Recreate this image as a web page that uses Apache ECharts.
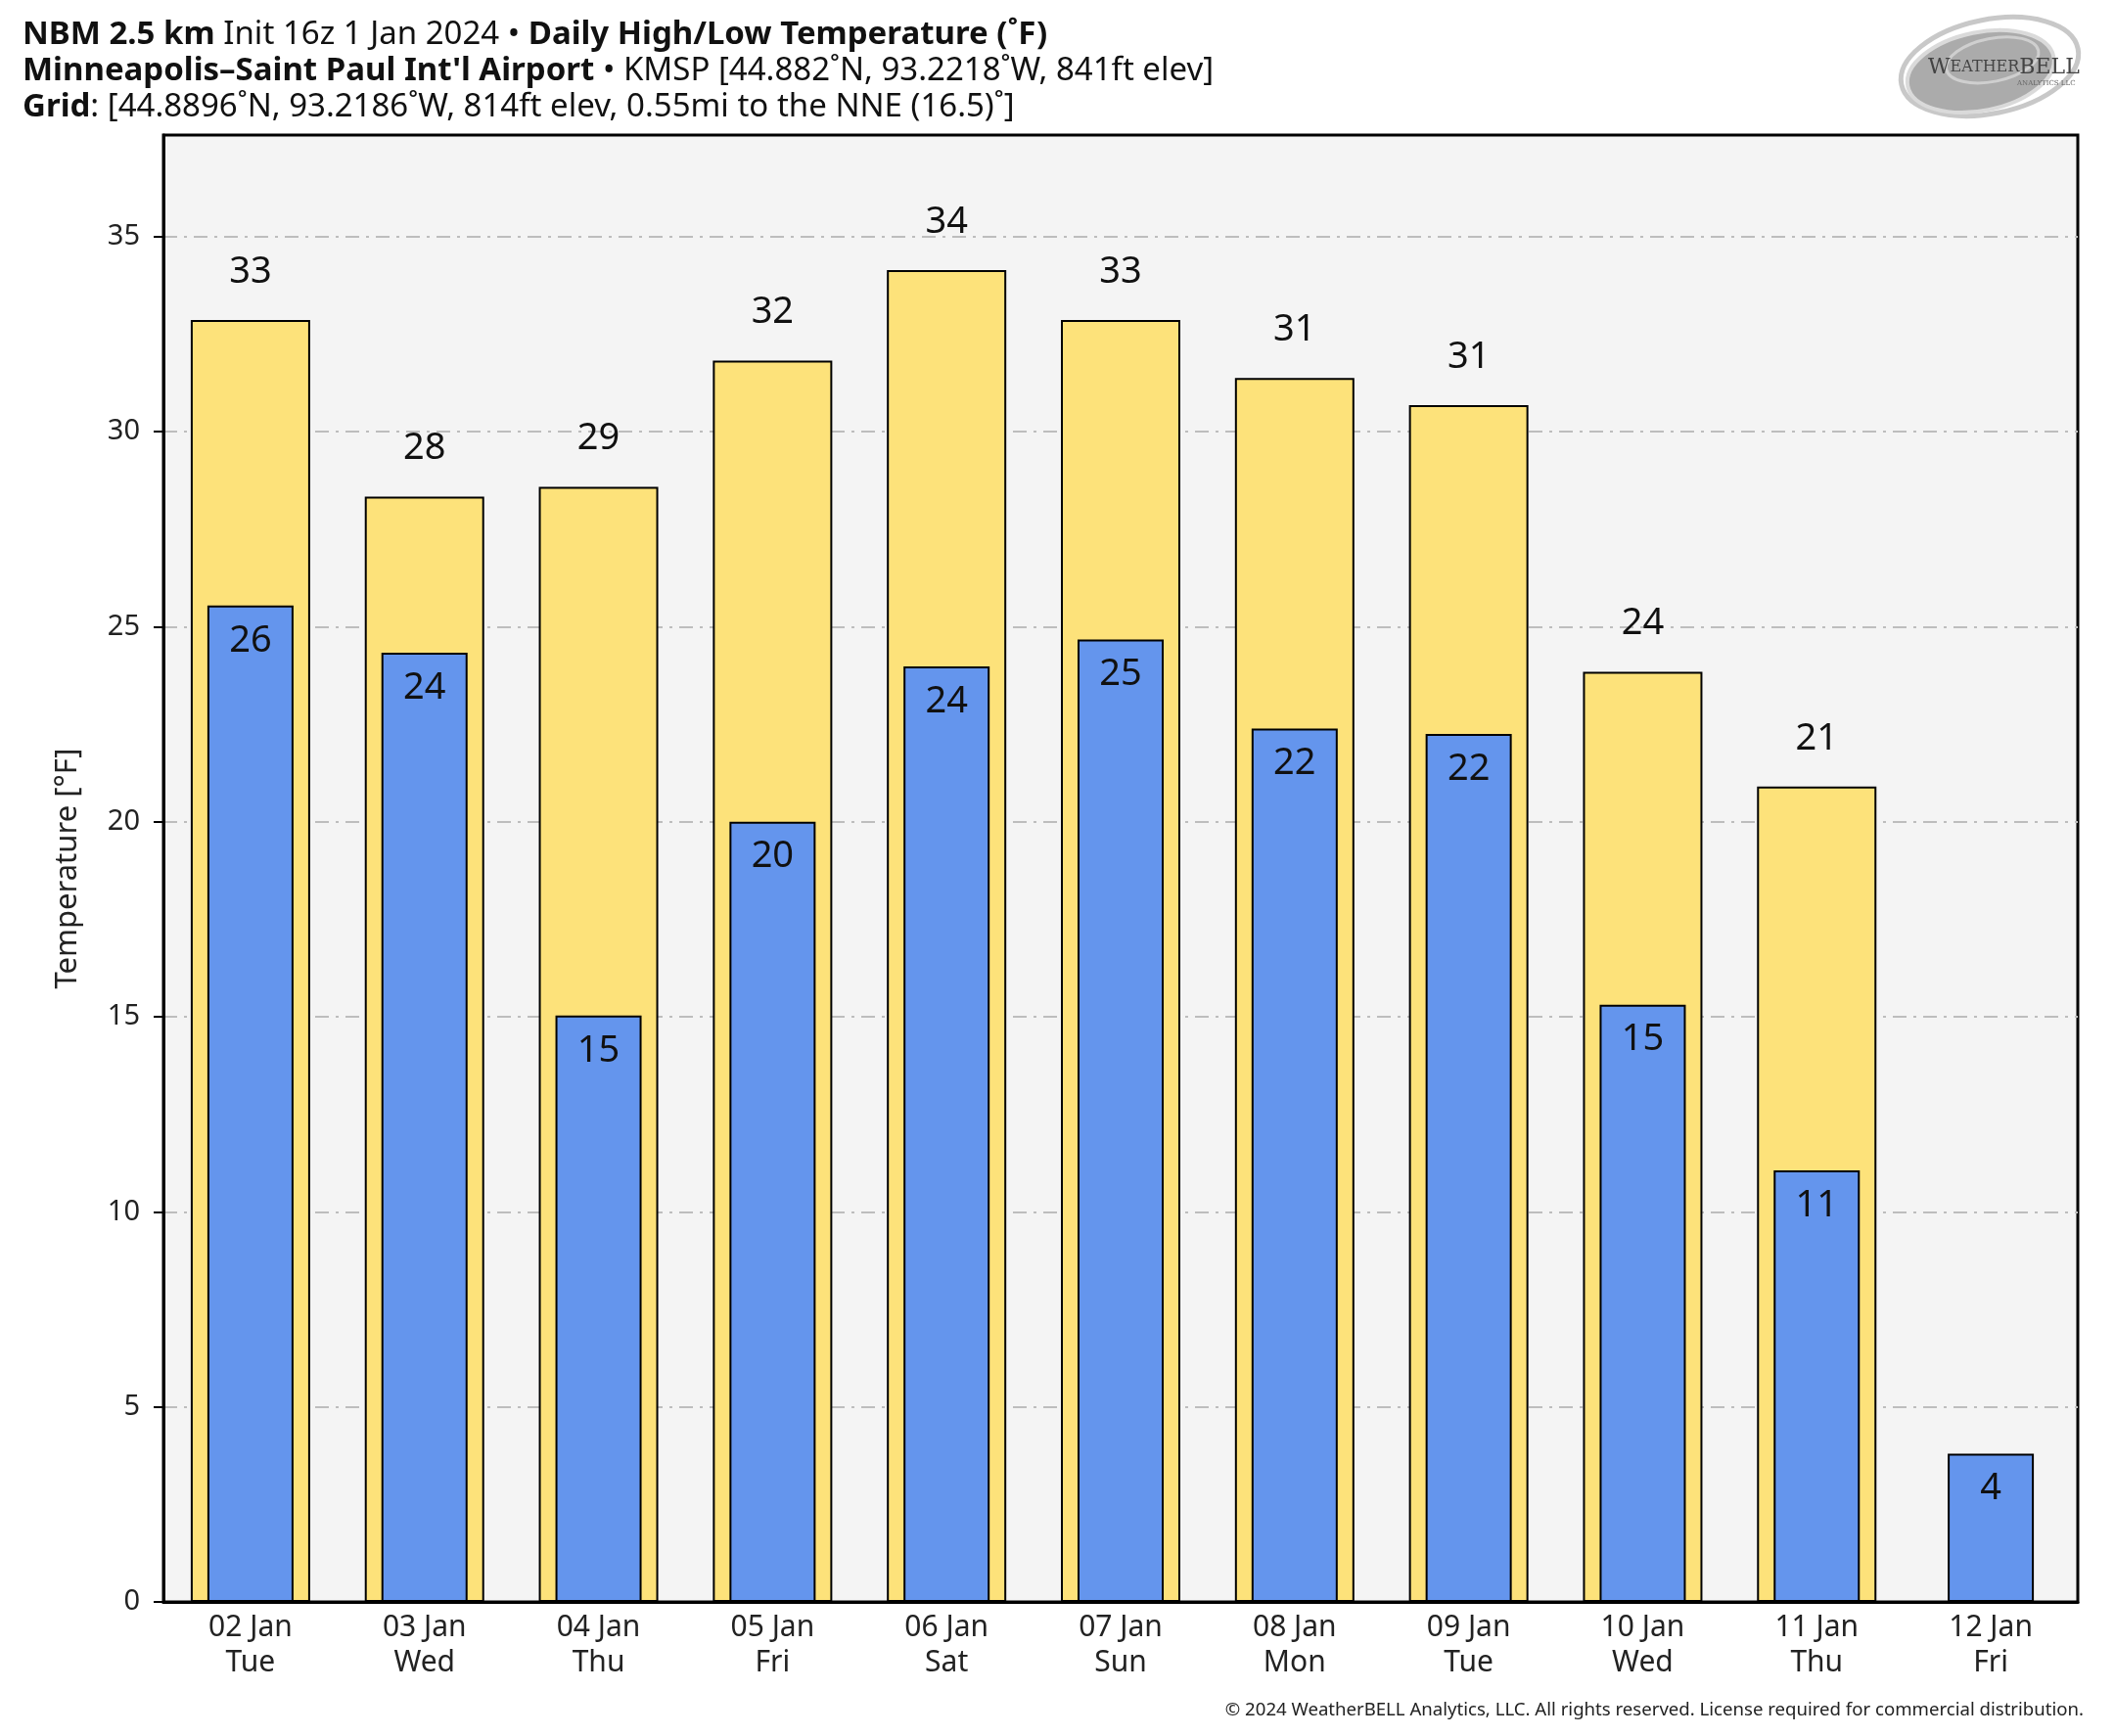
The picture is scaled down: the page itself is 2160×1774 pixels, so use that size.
<!DOCTYPE html>
<html>
<head>
<meta charset="utf-8">
<script src="https://cdn.jsdelivr.net/npm/echarts@6/dist/echarts.min.js"></script>
<style>
html,body{margin:0;padding:0;background:#fff;}
#chart{width:2160px;height:1774px;}
</style>
</head>
<body>
<div id="chart"></div>
<script>
const dates = ['02 Jan','03 Jan','04 Jan','05 Jan','06 Jan','07 Jan','08 Jan','09 Jan','10 Jan','11 Jan','12 Jan'];
const weekdays = ['Tue','Wed','Thu','Fri','Sat','Sun','Mon','Tue','Wed','Thu','Fri'];
const highs = [32.86, 28.33, 28.58, 31.82, 34.14, 32.86, 31.37, 30.68, 23.84, 20.9, null];
const lows = [25.54, 24.33, 15.03, 20.0, 23.98, 24.67, 22.39, 22.25, 15.31, 11.06, 3.8];
const yTicks = [0, 5, 10, 15, 20, 25, 30, 35];

const categories = dates.map((d, i) => d + '\n' + weekdays[i]);
const FONT = 'Noto Sans';

const chart = echarts.init(document.getElementById('chart'), null, {renderer: 'canvas'});

const TS = 33;
const titleRich = {b: {fontWeight: 'bold', fontSize: TS, fontFamily: FONT, fill: '#111'}};

const option = {
  backgroundColor: '#ffffff',
  animation: false,
  textStyle: {fontFamily: FONT, color: '#222'},
  grid: {
    left: 167, right: 37, top: 138, bottom: 137,
    show: true, backgroundColor: '#f4f4f4', borderColor: '#000', borderWidth: 3, z: 0
  },
  xAxis: [
    {
      type: 'category', data: categories, position: 'bottom',
      axisLine: {show: true, lineStyle: {color: '#000', width: 3}},
      axisTick: {show: false},
      axisLabel: {color: '#222', fontSize: 30, lineHeight: 36, margin: 8, fontFamily: FONT, interval: 0},
      splitLine: {show: false}
    },
    {
      type: 'category', data: categories, position: 'bottom', show: false,
      axisLine: {show: false}, axisTick: {show: false}, axisLabel: {show: false}
    }
  ],
  yAxis: {
    type: 'value', min: 0, max: 37.6, interval: 5,
    name: 'Temperature [°F]', nameLocation: 'middle', nameGap: 82,
    nameTextStyle: {fontSize: 31, color: '#222', fontFamily: FONT},
    axisLine: {show: true, lineStyle: {color: '#000', width: 3}},
    axisTick: {show: true, length: 10, inside: false, lineStyle: {color: '#000', width: 2}, customValues: yTicks},
    axisLabel: {color: '#222', fontSize: 29, margin: 24, fontFamily: FONT, customValues: yTicks},
    splitLine: {show: true, lineStyle: {color: '#bdbdbd', width: 2, type: [14, 7, 3, 7]}}
  },
  series: [
    {
      name: 'High', type: 'bar', xAxisIndex: 0, data: highs, barWidth: 122, z: 2,
      itemStyle: {color: '#fde27a', borderColor: '#000', borderWidth: 2},
      label: {
        show: true, position: 'top', distance: 29, fontSize: 38, lineHeight: 40, color: '#111', fontFamily: FONT,
        formatter: p => p.value == null ? '' : String(Math.round(p.value))
      }
    },
    {
      name: 'Low', type: 'bar', xAxisIndex: 1, data: lows, barWidth: 88, z: 3,
      itemStyle: {color: '#6495ed', borderColor: '#000', borderWidth: 2},
      label: {
        show: true, position: 'insideTop', distance: 16, fontSize: 38, lineHeight: 40, color: '#111', fontFamily: FONT,
        formatter: p => String(Math.round(p.value))
      }
    }
  ],
  graphic: [
    {
      type: 'text', left: 23, top: 19, z: 10,
      style: {
        text: '{b|NBM 2.5 km} Init 16z 1 Jan 2024 • {b|Daily High/Low Temperature (˚F)}',
        fontFamily: FONT, fontSize: TS, fill: '#111', rich: titleRich
      }
    },
    {
      type: 'text', left: 23, top: 56, z: 10,
      style: {
        text: "{b|Minneapolis–Saint Paul Int'l Airport} • KMSP [44.882˚N, 93.2218˚W, 841ft elev]",
        fontFamily: FONT, fontSize: TS, fill: '#111', rich: titleRich
      }
    },
    {
      type: 'text', left: 23, top: 93, z: 10,
      style: {
        text: '{b|Grid}: [44.8896˚N, 93.2186˚W, 814ft elev, 0.55mi to the NNE (16.5)˚]',
        fontFamily: FONT, fontSize: TS, fill: '#111', rich: titleRich
      }
    },
    {
      type: 'text', right: 31, top: 1738, z: 10,
      style: {
        text: '© 2024 WeatherBELL Analytics, LLC. All rights reserved. License required for commercial distribution.',
        fontFamily: FONT, fontSize: 18.6, fill: '#222'
      }
    },
    {
      type: 'group', x: 2033, y: 68, z: 10,
      children: [
        {type: 'ellipse', rotation: 0.2, shape: {cx: 0, cy: 0, rx: 92, ry: 48},
          style: {fill: 'none', stroke: '#c8c8c8', lineWidth: 5}},
        {type: 'ellipse', rotation: 0.2, shape: {cx: -10, cy: 3, rx: 76, ry: 40},
          style: {fill: '#ababab', stroke: '#dadada', lineWidth: 4}},
        {type: 'ellipse', rotation: 0.2, shape: {cx: 4, cy: -6, rx: 48, ry: 22},
          style: {fill: 'none', stroke: '#cfcfcf', lineWidth: 3}},
        {type: 'text', x: -63, y: 1,
          style: {text: '{a|W}{s|EATHER}{a|BELL}', fontFamily: 'DejaVu Serif', fill: '#444', textVerticalAlign: 'middle',
            rich: {a: {fontSize: 22, fontFamily: 'DejaVu Serif', fill: '#444'}, s: {fontSize: 16, fontFamily: 'DejaVu Serif', fill: '#444'}}}},
        {type: 'text', x: 28, y: 17,
          style: {text: 'ANALYTICS LLC', fontFamily: 'DejaVu Serif', fontSize: 7, fill: '#666', textVerticalAlign: 'middle'}}
      ]
    }
  ]
};
chart.setOption(option);
</script>
</body>
</html>
